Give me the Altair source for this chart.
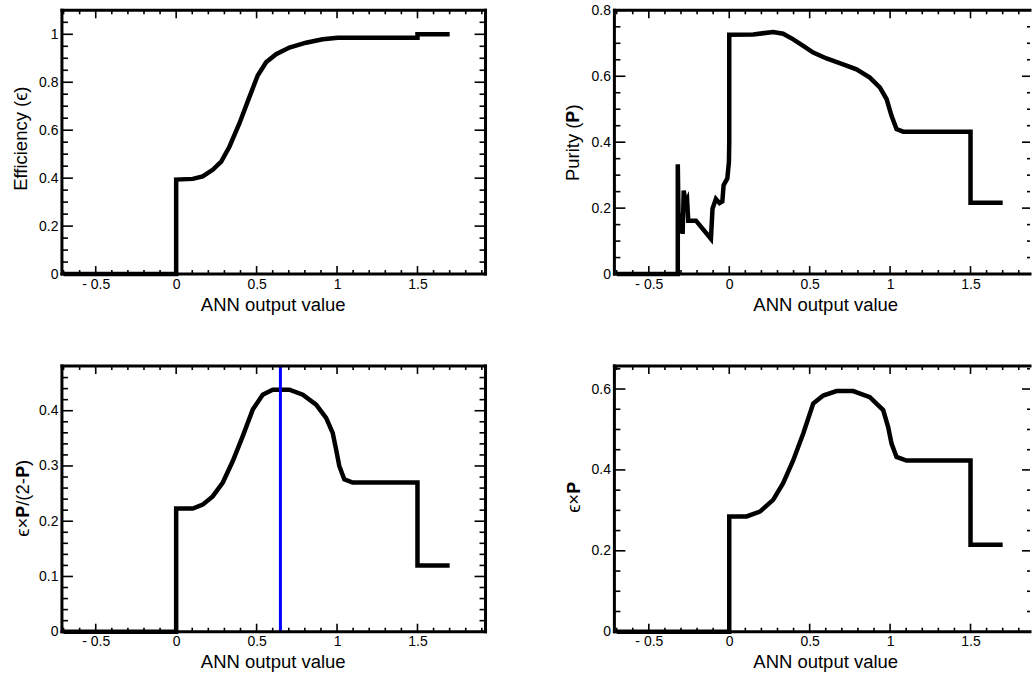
import altair as alt
import pandas as pd

FONT = "Liberation Sans, DejaVu Serif, DejaVu Sans"

X_TITLE = "ANN output value"
X_MAJOR = [-0.5, 0.0, 0.5, 1.0, 1.5]
X_MINOR = [-0.7, -0.6, -0.4, -0.3, -0.2, -0.1, 0.1, 0.2, 0.3, 0.4, 0.6, 0.7, 0.8, 0.9,
           1.1, 1.2, 1.3, 1.4, 1.6, 1.7, 1.8, 1.9]

# Efficiency
EFF_X = [-0.7, 0.0, 0.0, 0.103, 0.165, 0.227, 0.28, 0.331, 0.393, 0.455, 0.507, 0.559,
         0.621, 0.704, 0.807, 0.911, 1.004, 1.5, 1.5, 1.7]
EFF_Y = [0.0, 0.0, 0.394, 0.397, 0.407, 0.435, 0.469, 0.531, 0.628, 0.738, 0.828, 0.883,
         0.917, 0.945, 0.965, 0.979, 0.986, 0.986, 1.0, 1.0]

# Purity
PUR_X = [-0.7, -0.32, -0.32, -0.314, -0.31, -0.295, -0.29, -0.283, -0.272, -0.262, -0.255,
         -0.207, -0.114, -0.104, -0.083, -0.06, -0.043, -0.035, -0.012, -0.002, 0.0, 0.0,
         0.149, 0.273, 0.335, 0.398, 0.46, 0.522, 0.605, 0.708, 0.791, 0.874, 0.936, 0.978,
         1.009, 1.04, 1.081, 1.5, 1.5, 1.7]
PUR_Y = [0.0, 0.0, 0.333, 0.125, 0.178, 0.178, 0.122, 0.253, 0.215, 0.225, 0.162,
         0.162, 0.107, 0.198, 0.228, 0.215, 0.22, 0.27, 0.29, 0.34, 0.40, 0.726,
         0.727, 0.734, 0.729, 0.712, 0.692, 0.672, 0.654, 0.636, 0.621, 0.596, 0.566, 0.531,
         0.48, 0.44, 0.432, 0.432, 0.216, 0.216]

# eff*P/(2-P)
F_X = [-0.7, 0.0, 0.0, 0.103, 0.165, 0.227, 0.29, 0.352, 0.414, 0.476, 0.538, 0.6, 0.704,
       0.787, 0.87, 0.932, 0.973, 0.994, 1.014, 1.045, 1.097, 1.5, 1.5, 1.7]
F_Y = [0.0, 0.0, 0.223, 0.223, 0.23, 0.245, 0.27, 0.309, 0.354, 0.402, 0.429, 0.438, 0.438,
       0.429, 0.411, 0.387, 0.36, 0.33, 0.3, 0.276, 0.27, 0.27, 0.12, 0.12]
BEST_CUT = [0.648]

# eff*P
EP_X = [-0.7, 0.0, 0.0, 0.108, 0.191, 0.273, 0.335, 0.398, 0.46, 0.522, 0.584, 0.667, 0.77,
        0.874, 0.957, 0.988, 1.009, 1.04, 1.102, 1.5, 1.5, 1.7]
EP_Y = [0.0, 0.0, 0.285, 0.285, 0.297, 0.326, 0.367, 0.424, 0.49, 0.564, 0.584, 0.595, 0.595,
        0.58, 0.548, 0.506, 0.465, 0.432, 0.423, 0.423, 0.215, 0.215]

Y1_MAJOR = [0, 0.2, 0.4, 0.6, 0.8, 1.0]
Y1_MINOR = [0.05, 0.1, 0.15, 0.25, 0.3, 0.35, 0.45, 0.5, 0.55, 0.65, 0.7, 0.75, 0.85, 0.9, 0.95, 1.05]
Y2_MAJOR = [0, 0.2, 0.4, 0.6, 0.8]
Y2_MINOR = [0.05, 0.1, 0.15, 0.25, 0.3, 0.35, 0.45, 0.5, 0.55, 0.65, 0.7, 0.75]
Y3_MAJOR = [0, 0.1, 0.2, 0.3, 0.4]
Y3_MINOR = [0.02, 0.04, 0.06, 0.08, 0.12, 0.14, 0.16, 0.18, 0.22, 0.24, 0.26, 0.28,
            0.32, 0.34, 0.36, 0.38, 0.42, 0.44, 0.46]
Y4_MAJOR = [0, 0.2, 0.4, 0.6]
Y4_MINOR = [0.05, 0.1, 0.15, 0.25, 0.3, 0.35, 0.45, 0.5, 0.55, 0.65]

LABEL_SIZE = 14
TITLE_SIZE = 18.5


def panel(xs, ys, xdom, ydom, ymaj, ymin, ytitle, tx, ty, W, H, right_frame, vline=None):
    xsc = alt.Scale(domain=xdom, nice=False, zero=False)
    ysc = alt.Scale(domain=ydom, nice=False, zero=False)
    xaxis = alt.Axis(values=X_MAJOR,
                     labelExpr="datum.value < 0 ? '- ' + format(-datum.value, '~g') : format(datum.value, '~g')",
                     ticks=False, tickSize=0, domain=False, grid=False,
                     labelFont=FONT, labelFontSize=LABEL_SIZE, labelColor="black",
                     labelPadding=3, labelFlush=False, labelOverlap=False,
                     title=X_TITLE, titleFont=FONT, titleFontSize=TITLE_SIZE,
                     titleFontWeight="normal", titleColor="black",
                     titleX=211, titleY=36, titleBaseline="alphabetic", titleAlign="center")
    yaxis = alt.Axis(values=ymaj, format="~g",
                     ticks=False, tickSize=0, domain=False, grid=False,
                     labelFont=FONT, labelFontSize=LABEL_SIZE, labelColor="black",
                     labelPadding=4, labelFlush=False, labelOverlap=False,
                     title=ytitle, titleFont=FONT, titleFontSize=TITLE_SIZE,
                     titleFontWeight="normal", titleColor="black",
                     titleAngle=270, titleX=tx, titleY=ty, titleBaseline="middle",
                     titleAlign="center")

    xmin = [v for v in X_MINOR if xdom[0] <= v <= xdom[1]]
    df_xmaj = pd.DataFrame({"v": X_MAJOR})
    df_xmin = pd.DataFrame({"v": xmin})
    df_ymaj = pd.DataFrame({"v": ymaj})
    df_ymin = pd.DataFrame({"v": ymin})
    one = pd.DataFrame({"k": [0]})

    X = lambda: alt.X("v:Q", scale=xsc, axis=xaxis)
    Y = lambda: alt.Y("v:Q", scale=ysc, axis=yaxis)
    tick = dict(color="black", strokeWidth=1.6)

    layers = []
    # inward ticks on all four sides
    layers.append(alt.Chart(df_xmaj).mark_rule(**tick).encode(x=X(), y=alt.value(H - 8), y2=alt.value(H)))
    layers.append(alt.Chart(df_xmaj).mark_rule(**tick).encode(x=X(), y=alt.value(0), y2=alt.value(8)))
    layers.append(alt.Chart(df_xmin).mark_rule(**tick).encode(x=X(), y=alt.value(H - 4), y2=alt.value(H)))
    layers.append(alt.Chart(df_xmin).mark_rule(**tick).encode(x=X(), y=alt.value(0), y2=alt.value(4)))
    layers.append(alt.Chart(df_ymaj).mark_rule(**tick).encode(y=Y(), x=alt.value(0), x2=alt.value(11)))
    layers.append(alt.Chart(df_ymin).mark_rule(**tick).encode(y=Y(), x=alt.value(0), x2=alt.value(6)))
    rmaj = 11 if right_frame else 8
    rmin = 6 if right_frame else 3
    layers.append(alt.Chart(df_ymaj).mark_rule(**tick).encode(y=Y(), x=alt.value(W - rmaj), x2=alt.value(W)))
    layers.append(alt.Chart(df_ymin).mark_rule(**tick).encode(y=Y(), x=alt.value(W - rmin), x2=alt.value(W)))

    # curve
    df = pd.DataFrame({"x": xs, "y": ys, "o": list(range(len(xs)))})
    layers.append(alt.Chart(df).mark_line(color="black", strokeWidth=4.5, strokeJoin="miter").encode(
        x=alt.X("x:Q", scale=xsc, axis=xaxis),
        y=alt.Y("y:Q", scale=ysc, axis=yaxis),
        order="o:Q"))

    if vline is not None:
        layers.append(alt.Chart(pd.DataFrame({"v": vline})).mark_rule(color="#0000ff", strokeWidth=3).encode(
            x=X(), y=alt.value(0), y2=alt.value(H)))

    # frame
    fr = dict(color="black", strokeWidth=3, strokeCap="square")
    layers.append(alt.Chart(one).mark_rule(**fr).encode(x=alt.value(0), y=alt.value(0), y2=alt.value(H)))
    layers.append(alt.Chart(one).mark_rule(**fr).encode(x=alt.value(0), x2=alt.value(W), y=alt.value(0)))
    layers.append(alt.Chart(one).mark_rule(**fr).encode(x=alt.value(0), x2=alt.value(W), y=alt.value(H)))
    if right_frame:
        layers.append(alt.Chart(one).mark_rule(**fr).encode(x=alt.value(W), y=alt.value(0), y2=alt.value(H)))

    return alt.layer(*layers).properties(width=W, height=H)


WL, WR = 424, 416
XDOM_L = [-0.71, 1.923]
XDOM_R = [-0.714, -0.714 + WR / 161.0]

tl = panel(EFF_X, EFF_Y, XDOM_L, [0, 1.1], Y1_MAJOR, Y1_MINOR, "Efficiency (ϵ)", -41, 128, WL, 264, True)
tr = panel(PUR_X, PUR_Y, XDOM_R, [0, 0.8], Y2_MAJOR, Y2_MINOR, "Purity (𝐏)", -42, 132, WR, 264, False)
bl = panel(F_X, F_Y, XDOM_L, [0, 0.481], Y3_MAJOR, Y3_MINOR, "ϵ×𝐏/(2-𝐏)", -39, 132, WL, 266, True, BEST_CUT)
br = panel(EP_X, EP_Y, XDOM_R, [0, 0.657], Y4_MAJOR, Y4_MINOR, "ϵ×𝐏", -41, 131, WR, 266, False)

chart = alt.concat(tl, tr, bl, br, columns=2).properties(
    spacing={"row": 92, "column": 129},
    bounds="flush",
    padding={"left": 12, "top": 3, "right": 0, "bottom": 0},
    background="white",
).configure_view(strokeWidth=0)

chart.save("out.html", embed_options={"renderer": "svg", "actions": False})
